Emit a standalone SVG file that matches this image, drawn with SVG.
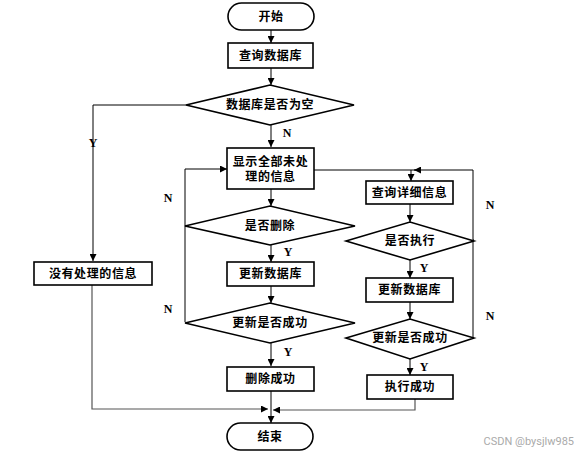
<svg xmlns="http://www.w3.org/2000/svg" width="578" height="455" viewBox="0 0 578 455">
<style>
.b{fill:#fff;stroke:#000;stroke-width:1.6}
.t{font-family:"Liberation Serif","Noto Sans CJK SC",serif;font-size:12px;font-weight:bold;fill:#000;text-anchor:middle;dominant-baseline:central;letter-spacing:0.6px}
.l{font-family:"Liberation Serif",serif;font-size:12px;font-weight:bold;fill:#000;text-anchor:middle;dominant-baseline:central}
.c{fill:none;stroke:#000;stroke-width:1}
.g{fill:none;stroke:#555;stroke-width:1.2}
</style>
<defs>
<marker id="a" viewBox="0 0 10 10" refX="10" refY="5" markerWidth="7" markerHeight="7" orient="auto" markerUnits="userSpaceOnUse"><path d="M0,0L10,5L0,10z" fill="#000"/></marker>
</defs>
<rect width="578" height="455" fill="#fff"/>
<g id="connectors">
<path class="c" d="M271,30V43" marker-end="url(#a)"/>
<path class="c" d="M271,68V85" marker-end="url(#a)"/>
<path class="c" d="M186,105H93V261" marker-end="url(#a)"/>
<path class="c" d="M271,125V147" marker-end="url(#a)"/>
<path class="c" d="M271,189V206" marker-end="url(#a)"/>
<path class="c" d="M271,245V262" marker-end="url(#a)"/>
<path class="c" d="M271,286V303" marker-end="url(#a)"/>
<path class="c" d="M271,343V366" marker-end="url(#a)"/>
<path class="c" d="M271,391V423" marker-end="url(#a)"/>
<path class="c" d="M185,322V169H227" marker-end="url(#a)"/>
<path class="c" d="M185,226H186"/>
<path class="c" d="M314,170H473V338"/>
<path class="c" d="M474,240H473"/>
<path class="c" d="M474,338H473"/>
<path class="c" d="M411,170V181" marker-end="url(#a)"/>
<path class="c" d="M420,170H414" marker-end="url(#a)"/>
<path class="c" d="M410,204V222" marker-end="url(#a)"/>
<path class="c" d="M410,260V278" marker-end="url(#a)"/>
<path class="c" d="M410,302V319" marker-end="url(#a)"/>
<path class="c" d="M410,359V375" marker-end="url(#a)"/>
<path class="g" d="M92,285V409H268" marker-end="url(#a)"/>
<path class="g" d="M415,399V410H273" marker-end="url(#a)"/>
<text class="l" x="93" y="143">Y</text>
<text class="l" x="287" y="133">N</text>
<text class="l" x="168" y="198">N</text>
<text class="l" x="168" y="309">N</text>
<text class="l" x="288" y="252">Y</text>
<text class="l" x="288" y="352">Y</text>
<text class="l" x="424" y="268">Y</text>
<text class="l" x="424" y="367">Y</text>
<text class="l" x="490" y="205">N</text>
<text class="l" x="490" y="316">N</text>
</g>
<g id="start"><rect class="b" x="228" y="3" width="86" height="27" rx="13.5"/><text class="t" x="271" y="16.5">开始</text></g>
<g id="query"><rect class="b" x="228" y="43" width="85" height="25"/><text class="t" x="270.5" y="55.5">查询数据库</text></g>
<g id="isEmpty"><polygon class="b" points="186,105 270,85 354,105 270,125"/><text class="t" x="270" y="105">数据库是否为空</text></g>
<g id="noInfo"><rect class="b" x="34" y="262" width="118" height="23"/><text class="t" x="93" y="273.5">没有处理的信息</text></g>
<g id="showAll"><rect class="b" x="227" y="148" width="87" height="41"/><text class="t" x="270.5" y="162">显示全部未处</text><text class="t" x="270.5" y="177">理的信息</text></g>
<g id="isDelete"><polygon class="b" points="185,226 270,206 355,226 270,245"/><text class="t" x="270" y="226">是否删除</text></g>
<g id="updateDb1"><rect class="b" x="227" y="262" width="87" height="24"/><text class="t" x="270.5" y="274">更新数据库</text></g>
<g id="updateOk1"><polygon class="b" points="185,323 270,303 355,323 270,343"/><text class="t" x="270" y="323">更新是否成功</text></g>
<g id="deleteOk"><rect class="b" x="227" y="367" width="87" height="24"/><text class="t" x="270.5" y="379">删除成功</text></g>
<g id="end"><rect class="b" x="227" y="423" width="86" height="27" rx="13.5"/><text class="t" x="270" y="436.5">结束</text></g>
<g id="queryDetail"><rect class="b" x="366" y="181" width="87" height="23"/><text class="t" x="409.5" y="192.5">查询详细信息</text></g>
<g id="isExec"><polygon class="b" points="346,241 410,222 474,241 410,260"/><text class="t" x="410" y="241">是否执行</text></g>
<g id="updateDb2"><rect class="b" x="366" y="278" width="87" height="24"/><text class="t" x="409.5" y="290">更新数据库</text></g>
<g id="updateOk2"><polygon class="b" points="346,338 410,319 474,338 410,359"/><text class="t" x="410" y="338">更新是否成功</text></g>
<g id="execOk"><rect class="b" x="367" y="375" width="86" height="24"/><text class="t" x="410" y="387">执行成功</text></g>
<text x="574" y="441" font-family="Roboto,'Liberation Sans',sans-serif" font-size="11" fill="#aaa" text-anchor="end" dominant-baseline="central">CSDN @bysjlw985</text>
</svg>
